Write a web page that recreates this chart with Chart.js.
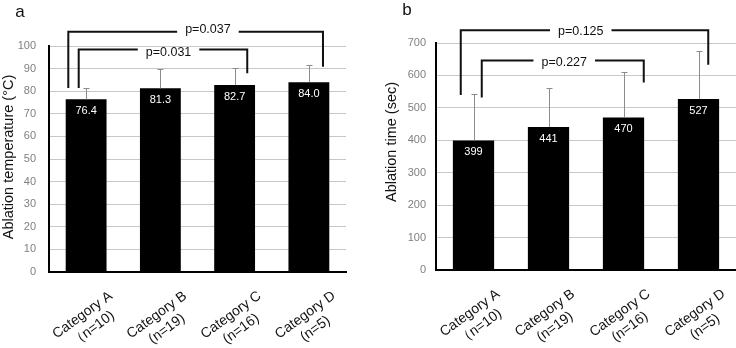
<!DOCTYPE html>
<html>
<head>
<meta charset="utf-8">
<script src="https://cdn.jsdelivr.net/npm/chart.js@4.4.1/dist/chart.umd.min.js"></script>
<style>
  html, body { margin: 0; padding: 0; background: #fff; }
  .panel { position: absolute; top: 0; width: 368px; height: 348px; }
  #panelA { left: 0; }
  #panelB { left: 368px; }
</style>
</head>
<body>
<div class="panel" id="panelA"><canvas id="chartA" width="368" height="348"></canvas></div>
<div class="panel" id="panelB"><canvas id="chartB" width="368" height="348"></canvas></div>

<script>
/* ── Data ─────────────────────────────────────────────────────────────── */
const categories = ["Category A", "Category B", "Category C", "Category D"];
const groupSizes = ["（n=10)", "(n=19)", "(n=16)", "(n=5)"];

const tempMeans = [76.4, 81.3, 82.7, 84.0];
const tempSD    = [4.9, 8.5, 7.7, 7.6];
const tempMax = 100, tempStep = 10;

const timeMeans = [399, 441, 470, 527];
const timeSD    = [143, 120, 142, 147];
const timeMax = 700, timeStep = 100;

// significance brackets: ends in category units, heights in axis units
const tempBrackets = [
  { label: "p=0.037", from: -0.24, to: 3.19, top: 106.3, fromEnd: 81.4, toEnd: 90.8, textAt: 1.64, dy: -3.5 },
  { label: "p=0.031", from: -0.10, to: 2.17, top: 98.5,  fromEnd: 81.4, toEnd: 87.9, textAt: 1.11, dy: 2.5 },
];
const timeBrackets = [
  { label: "p=0.125", from: -0.17, to: 3.13, top: 739, fromEnd: 540, toEnd: 633, textAt: 1.43, dy: 0 },
  { label: "p=0.227", from: 0.11,  to: 2.27, top: 646, fromEnd: 532, toEnd: 578, textAt: 1.21, dy: 1 },
];

const FONT = '"Liberation Sans", Arial, sans-serif';
Chart.defaults.font.family = FONT;

/* ── Plugin: error bars, value labels, brackets, axis texts ───────────── */
const extras = {
  id: "extras",
  afterDraw(chart, args, opts) {
    const ctx = chart.ctx;
    const xs = chart.scales.x, ys = chart.scales.y;
    const meta = chart.getDatasetMeta(0);
    const values = chart.data.datasets[0].data;
    const c0 = xs.getPixelForValue(0), c1 = xs.getPixelForValue(1);
    const catX = (f) => c0 + f * (c1 - c0);

    ctx.save();

    // error bars (upper only)
    ctx.strokeStyle = "#8c8c8c";
    ctx.lineWidth = 1;
    meta.data.forEach((bar, i) => {
      const yTop = Math.round(ys.getPixelForValue(values[i] + opts.sd[i])) + 0.5;
      const x = Math.round(bar.x) + 0.5;
      ctx.beginPath();
      ctx.moveTo(x, bar.y);
      ctx.lineTo(x, yTop);
      ctx.moveTo(x - 3, yTop);
      ctx.lineTo(x + 3, yTop);
      ctx.stroke();
    });

    // values inside bars
    ctx.fillStyle = "#fff";
    ctx.font = "11px " + FONT;
    ctx.textAlign = "center";
    ctx.textBaseline = "middle";
    meta.data.forEach((bar, i) => {
      ctx.fillText(opts.fmt(values[i]), bar.x, bar.y + 11.5);
    });

    // brackets
    ctx.strokeStyle = "#111";
    ctx.lineWidth = 2;
    ctx.lineJoin = "miter";
    ctx.font = "12.5px " + FONT;
    ctx.fillStyle = "#111";
    ctx.textBaseline = "alphabetic";
    opts.brackets.forEach((b) => {
      const xl = catX(b.from), xr = catX(b.to), yt = ys.getPixelForValue(b.top);
      const xm = catX(b.textAt);
      const tw = ctx.measureText(b.label).width;
      ctx.beginPath();
      ctx.moveTo(xl, ys.getPixelForValue(b.fromEnd));
      ctx.lineTo(xl, yt);
      ctx.lineTo(xm - tw / 2 - 8, yt);
      ctx.moveTo(xm + tw / 2 + 8, yt);
      ctx.lineTo(xr, yt);
      ctx.lineTo(xr, ys.getPixelForValue(b.toEnd));
      ctx.stroke();
      ctx.fillText(b.label, xm, yt + b.dy + 4.5);
    });

    // category labels, rotated, two lines centred
    ctx.fillStyle = "#111";
    ctx.font = "14px " + FONT;
    ctx.textAlign = "center";
    ctx.textBaseline = "middle";
    categories.forEach((cat, i) => {
      ctx.save();
      ctx.translate(xs.getPixelForValue(i) + 1.5, ys.bottom + 50);
      ctx.rotate(-36 * Math.PI / 180);
      ctx.fillText(cat, 0, -8.5);
      ctx.fillText(groupSizes[i], 0, 8.5);
      ctx.restore();
    });

    // y title
    ctx.save();
    ctx.translate(opts.titleX, opts.titleY);
    ctx.rotate(-Math.PI / 2);
    ctx.fillStyle = "#111";
    ctx.font = "14.5px " + FONT;
    ctx.fillText(opts.title, 0, 0);
    ctx.restore();

    // panel letter
    ctx.fillStyle = "#111";
    ctx.font = "17px " + FONT;
    ctx.textAlign = "center";
    ctx.textBaseline = "alphabetic";
    ctx.fillText(opts.letter, opts.letterX, opts.letterY);

    ctx.restore();
  }
};

/* ── Chart builder ────────────────────────────────────────────────────── */
function makeChart(id, cfg) {
  return new Chart(document.getElementById(id), {
    type: "bar",
    data: {
      labels: categories,
      datasets: [{
        data: cfg.values,
        backgroundColor: "#000",
        borderWidth: 0,
        categoryPercentage: 1,
        barPercentage: 0.55,
      }]
    },
    options: {
      responsive: false,
      animation: false,
      layout: { padding: cfg.padding },
      plugins: {
        legend: { display: false },
        tooltip: { enabled: false },
        extras: cfg.extras,
      },
      scales: {
        x: {
          grid: { display: false, drawTicks: false },
          border: { color: "#000", width: 2 },
          ticks: { display: false },
          afterFit: (s) => { s.height = cfg.xHeight; },
        },
        y: {
          min: 0,
          max: cfg.max,
          grid: { color: "#c8c8c8", drawTicks: false },
          border: { color: "#000", width: 2 },
          ticks: {
            stepSize: cfg.step,
            color: "#808080",
            font: { size: 11 },
            padding: cfg.tickPad,
          },
          afterFit: (s) => { s.width = cfg.yWidth; },
        }
      }
    },
    plugins: [extras]
  });
}

makeChart("chartA", {
  values: tempMeans, max: tempMax, step: tempStep,
  padding: { top: 46, right: 22, left: 0, bottom: 0 },
  xHeight: 76, yWidth: 49, tickPad: 13,
  extras: {
    sd: tempSD, brackets: tempBrackets, fmt: (v) => v.toFixed(1),
    title: "Ablation temperature (°C)", titleX: 9, titleY: 157,
    letter: "a", letterX: 20, letterY: 17,
  }
});

makeChart("chartB", {
  values: timeMeans, max: timeMax, step: timeStep,
  padding: { top: 43, right: 0, left: 0, bottom: 0 },
  xHeight: 78, yWidth: 68, tickPad: 10,
  extras: {
    sd: timeSD, brackets: timeBrackets, fmt: (v) => String(v),
    title: "Ablation time (sec)", titleX: 24, titleY: 142,
    letter: "b", letterX: 39, letterY: 15,
  }
});
</script>
</body>
</html>
